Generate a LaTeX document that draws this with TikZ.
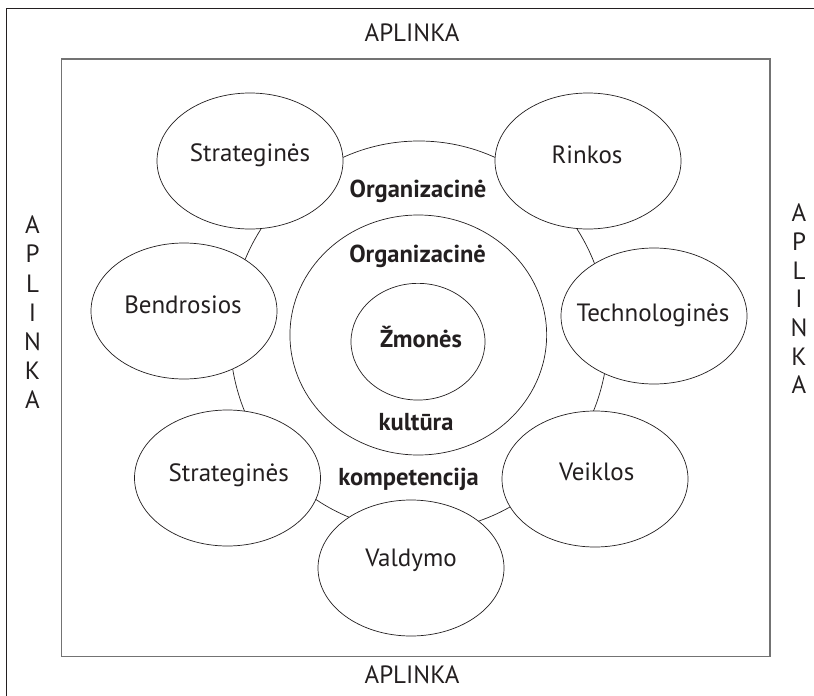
\documentclass[tikz,border=0pt]{standalone}
\usepackage{fontspec}
\setmainfont{PT Sans}
\usetikzlibrary{shapes.geometric}
\definecolor{ink}{HTML}{231F20}
\begin{document}
\begin{tikzpicture}[x=1pt,y=-1pt,
  oval/.style={ellipse, draw=ink, line width=0.7pt, fill=white, minimum width=186pt, minimum height=136pt, inner sep=0pt},
  ring/.style={ellipse, draw=ink, line width=0.7pt, inner sep=0pt},
  lbl/.style={font=\fontsize{25}{30}\selectfont, text=ink, text height=17.5pt, text depth=0pt, inner sep=0pt},
  blbl/.style={lbl, font=\fontsize{24.5}{30}\selectfont\bfseries},
  frameline/.style={draw=ink, line width=1.2pt},
  envbox/.style={draw=black!55, line width=1.4pt, inner sep=0pt}
]
\useasboundingbox (0,0) rectangle (814,696);
% outer frame (cut at right and bottom)
\coordinate (fb) at (6.7,696);
\coordinate (fc) at (6.7,8.3);
\coordinate (fr) at (814,8.3);
\draw[frameline] (fb) -- (fc) -- (fr);
% environment box
\node[envbox, minimum width=708.3pt, minimum height=597.7pt] (env) at (415.85,357.85) {};
% environment labels
\node[lbl] (topenv) at (412,33) {APLINKA};
\node[lbl] (botenv) at (412,675) {APLINKA};
\foreach \ch [count=\i] in {A,P,L,I,N,K,A}{
  \node[lbl] (lenv\i) at (32.5,{225+29.2*(\i-1)}) {\ch};
}
\foreach \ch [count=\i] in {A,P,L,I,N,K,A}{
  \node[lbl] (renv\i) at (799,{213+28.7*(\i-1)}) {\ch};
}
% rings
\node[ring, minimum width=378pt, minimum height=390pt] (comp) at (419,336) {};
\node[ring, minimum width=256.7pt, minimum height=240pt] (cult) at (418.3,335) {};
\node[ring, minimum width=134pt, minimum height=116.7pt] (people) at (418,341.7) {};
% ellipses on the ring
\node[oval] (s1) at (250,161) {};
\node[oval] (rin) at (588,161) {};
\node[oval] (ben) at (184,311) {};
\node[oval] (tec) at (654,316) {};
\node[oval] (s2) at (227.5,478) {};
\node[oval] (vei) at (595,479) {};
\node[oval] (val) at (411,568) {};
% ellipse labels
\node[lbl] (s1t) at (250,153) {Strateginės};
\node[lbl] (rint) at (587,155) {Rinkos};
\node[lbl] (bent) at (183,305) {Bendrosios};
\node[lbl] (tect) at (653,313) {Technologinės};
\node[lbl] (s2t) at (228.7,472.7) {Strateginės};
\node[lbl] (veit) at (596.7,471.7) {Veiklos};
\node[lbl] (valt) at (411,558) {Valdymo};
% centre labels
\node[blbl] (compt1) at (418,188.3) {Organizacinė};
\node[blbl] (compt2) at (408.5,477) {kompetencija};
\node[blbl] (cultt1) at (417.6,253.3) {Organizacinė};
\node[blbl] (cultt2) at (416,421.7) {kultūra};
\node[blbl] (peoplet) at (421,338.3) {Žmonės};
\end{tikzpicture}
\end{document}
